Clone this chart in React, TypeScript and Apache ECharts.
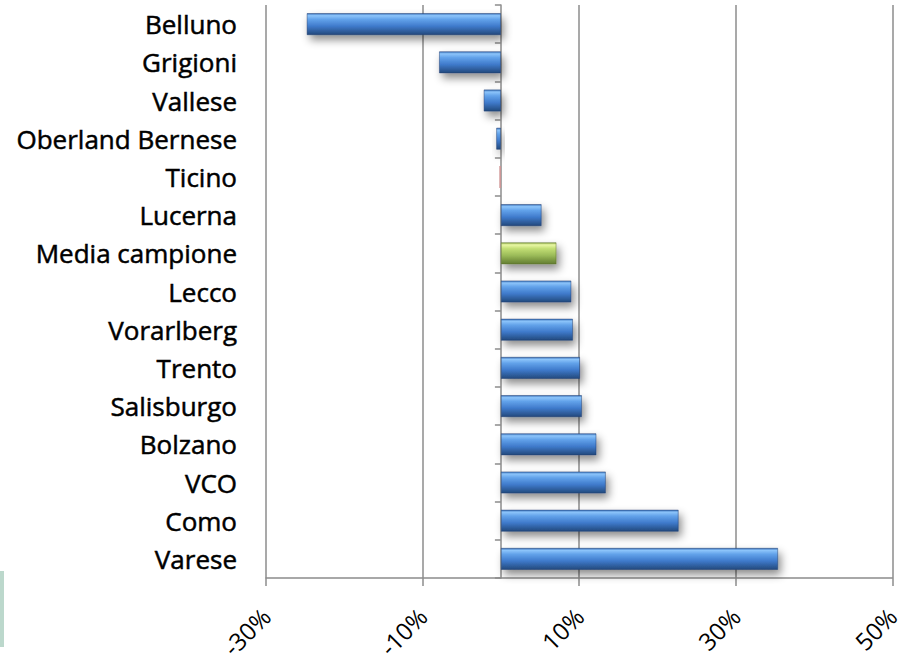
import React, { useEffect, useRef } from "react";
import * as echarts from "echarts";

const categories = [
  "Belluno",
  "Grigioni",
  "Vallese",
  "Oberland Bernese",
  "Ticino",
  "Lucerna",
  "Media campione",
  "Lecco",
  "Vorarlberg",
  "Trento",
  "Salisburgo",
  "Bolzano",
  "VCO",
  "Como",
  "Varese",
];

const values = [-24.8, -7.9, -2.2, -0.6, -0.2, 5.2, 7.1, 9.0, 9.2, 10.1, 10.35, 12.2, 13.4, 22.7, 35.4];

const highlightAverage = "Media campione";
const highlightOther = "Ticino";

const xTicks = { min: -30, max: 50, interval: 20 };

const blueGrad = () =>
  new echarts.graphic.LinearGradient(0, 0, 0, 1, [
    { offset: 0, color: "#3c74bd" },
    { offset: 0.1, color: "#8cc4fa" },
    { offset: 0.28, color: "#62a2ea" },
    { offset: 0.6, color: "#3f7acb" },
    { offset: 0.82, color: "#2f5f9f" },
    { offset: 1, color: "#23497d" },
  ]);

const greenGrad = () =>
  new echarts.graphic.LinearGradient(0, 0, 0, 1, [
    { offset: 0, color: "#88a845" },
    { offset: 0.1, color: "#eaf8a4" },
    { offset: 0.28, color: "#c2de74" },
    { offset: 0.6, color: "#9bbb59" },
    { offset: 0.82, color: "#7b9842" },
    { offset: 1, color: "#647f32" },
  ]);

export default function App() {
  const ref = useRef<HTMLDivElement>(null);
  useEffect(() => {
    if (!ref.current) return;
    const chart = echarts.init(ref.current, undefined, { renderer: "svg" });
    const font = "'Open Sans', 'Noto Sans', sans-serif";
    const data = values.map((v, i) => {
      const name = categories[i];
      let itemStyle: any = { color: blueGrad() };
      if (name === highlightAverage) itemStyle = { color: greenGrad(), borderColor: "rgba(90,110,40,0.6)" };
      if (name === highlightOther) itemStyle = { color: "#d09494", borderWidth: 0, shadowBlur: 0, shadowOffsetX: 0, shadowOffsetY: 0 };
      return { value: v, itemStyle };
    });
    chart.setOption({
      animation: false,
      backgroundColor: "#ffffff",
      grid: { left: 266, right: 10, top: 5, bottom: 84, containLabel: false },
      xAxis: {
        type: "value",
        min: xTicks.min,
        max: xTicks.max,
        interval: xTicks.interval,
        axisLine: { show: true, onZero: false, lineStyle: { color: "#8c8c8c", width: 1.5 } },
        axisTick: { show: true, length: 8, lineStyle: { color: "#8c8c8c", width: 1.5 } },
        splitLine: { show: true, lineStyle: { color: "#8c8c8c", width: 1.5 } },
        axisLabel: {
          formatter: "{value}%",
          rotate: 45,
          margin: 34,
          fontSize: 24,
          color: "#000",
          fontFamily: font,
        },
      },
      yAxis: [
        {
          type: "category",
          data: categories,
          inverse: true,
          position: "left",
          axisLine: { show: false, onZero: false },
          axisTick: { show: false },
          splitLine: { show: false },
          axisLabel: {
            margin: 29,
            fontSize: 26,
            color: "#000",
            fontFamily: font,
            textBorderColor: "#000",
            textBorderWidth: 0.5,
          },
        },
        {
          type: "category",
          data: categories,
          inverse: true,
          position: "left",
          axisLine: { show: true, onZero: true, lineStyle: { color: "#8c8c8c", width: 1.5 } },
          axisTick: { show: true, length: 6, lineStyle: { color: "#8c8c8c", width: 1.5 } },
          axisLabel: { show: false },
          splitLine: { show: false },
        },
      ],
      series: [
        {
          type: "bar",
          yAxisIndex: 0,
          data,
          barWidth: 22,
          itemStyle: {
            borderColor: "rgba(30,60,110,0.6)",
            borderWidth: 0.8,
            shadowColor: "rgba(0,0,0,0.45)",
            shadowBlur: 8,
            shadowOffsetX: 3,
            shadowOffsetY: 5,
          },
        },
      ],
      graphic: [
        {
          type: "rect",
          shape: { x: 0, y: 571, width: 4, height: 76 },
          style: { fill: "#bcd8cc" },
          silent: true,
        },
      ],
    });
    return () => chart.dispose();
  }, []);
  return (
    <div
      ref={ref}
      style={{ position: "fixed", left: 0, top: 0, width: 903, height: 662 }}
    />
  );
}
